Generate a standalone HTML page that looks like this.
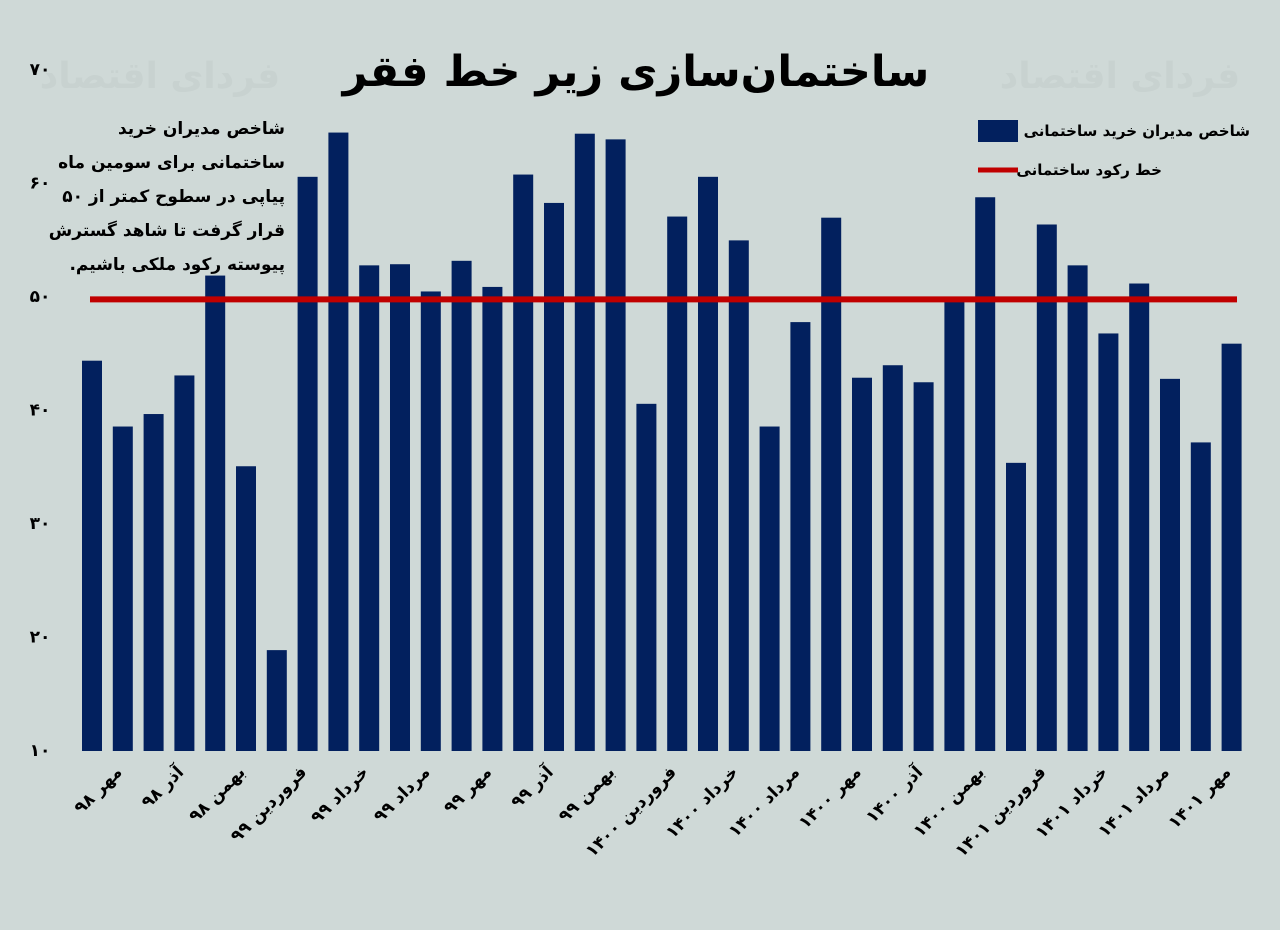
<!DOCTYPE html>
<html><head><meta charset="utf-8">
<style>
body{margin:0;background:#cfd9d7;}
svg{display:block;font-family:"DejaVu Sans","Liberation Sans",sans-serif;}
</style></head>
<body>
<svg id="chart" width="1280" height="930" viewBox="0 0 1280 930" xmlns="http://www.w3.org/2000/svg">
<rect x="0" y="0" width="1280" height="930" fill="#cfd9d7"/>
<text x="160" y="88" text-anchor="middle" font-size="36" font-weight="bold" fill="#c8d2d0" direction="rtl">فردای اقتصاد</text>
<text x="1120" y="88" text-anchor="middle" font-size="36" font-weight="bold" fill="#c8d2d0" direction="rtl">فردای اقتصاد</text>
<text x="636" y="86" text-anchor="middle" font-size="43" font-weight="bold" fill="#000" direction="rtl">ساختمان‌سازی زیر خط فقر</text>
<g id="yaxis"></g>
<g id="bars"></g>
<g id="xaxis"></g>
<line id="refline" stroke="#c00000" stroke-width="6"/>
<g font-size="17" font-weight="bold" fill="#000" text-anchor="start" direction="rtl">
<text x="285" y="134">شاخص مدیران خرید</text>
<text x="285" y="168">ساختمانی برای سومین ماه</text>
<text x="285" y="202">پیاپی در سطوح کمتر از ۵۰</text>
<text x="285" y="236">قرار گرفت تا شاهد گسترش</text>
<text x="285" y="270">پیوسته رکود ملکی باشیم.</text>
</g>
<g>
<rect x="978" y="120" width="40" height="22" fill="#02205e"/>
<text x="1250" y="136" text-anchor="start" font-size="15" font-weight="bold" direction="rtl">شاخص مدیران خرید ساختمانی</text>
<line x1="978" y1="170" x2="1018" y2="170" stroke="#c00000" stroke-width="5"/>
<text x="1162" y="175" text-anchor="start" font-size="15" font-weight="bold" direction="rtl">خط رکود ساختمانی</text>
</g>
</svg>
<script>
const values=[44.3,38.5,39.6,43.0,51.8,35.0,18.8,60.5,64.4,52.7,52.8,50.4,53.1,50.8,60.7,58.2,64.3,63.8,40.5,57.0,60.5,54.9,38.5,47.7,56.9,42.8,43.9,42.4,49.9,58.7,35.3,56.3,52.7,46.7,51.1,42.7,37.1,45.8];
const xLabels=["مهر ۹۸","آذر ۹۸","بهمن ۹۸","فروردین ۹۹","خرداد ۹۹","مرداد ۹۹","مهر ۹۹","آذر ۹۹","بهمن ۹۹","فروردین ۱۴۰۰","خرداد ۱۴۰۰","مرداد ۱۴۰۰","مهر ۱۴۰۰","آذر ۱۴۰۰","بهمن ۱۴۰۰","فروردین ۱۴۰۱","خرداد ۱۴۰۱","مرداد ۱۴۰۱","مهر ۱۴۰۱"];
const yTicks=[10,20,30,40,50,60,70];
const yTickLabels=["۱۰","۲۰","۳۰","۴۰","۵۰","۶۰","۷۰"];
const threshold=49.7;
const NS="http://www.w3.org/2000/svg";
const y=v=>750-(v-10)*11.35;
const x0=82,pitch=30.8,bw=20;
const bx=i=>x0+i*pitch;
const ya=document.getElementById('yaxis');
yTicks.forEach((t,i)=>{const e=document.createElementNS(NS,'text');


e.setAttribute('x',40);e.setAttribute('y',y(t)+6);e.setAttribute('text-anchor','middle');e.setAttribute('font-size','17');e.setAttribute('font-weight','bold');e.textContent=yTickLabels[i];ya.appendChild(e);});
const bg=document.getElementById('bars');
values.forEach((v,i)=>{const r=document.createElementNS(NS,'rect');


r.setAttribute('x',bx(i));r.setAttribute('y',y(v));r.setAttribute('width',bw);r.setAttribute('height',y(10)+1-y(v));r.setAttribute('fill','#02205e');bg.appendChild(r);});
const xa=document.getElementById('xaxis');
xLabels.forEach((l,k)=>{const i=1+2*k;const cx=bx(i)+bw/2-7;const e=document.createElementNS(NS,'text');


e.setAttribute('x',cx);e.setAttribute('y',776);e.setAttribute('text-anchor','start');e.setAttribute('direction','rtl');e.setAttribute('font-size','17');e.setAttribute('font-weight','bold');e.setAttribute('transform','rotate(-45 '+cx+' 766)');e.textContent=l;xa.appendChild(e);});
const rl=document.getElementById('refline');
rl.setAttribute('x1',90);rl.setAttribute('x2',1237);rl.setAttribute('y1',y(threshold));rl.setAttribute('y2',y(threshold));
</script>
</body></html>
